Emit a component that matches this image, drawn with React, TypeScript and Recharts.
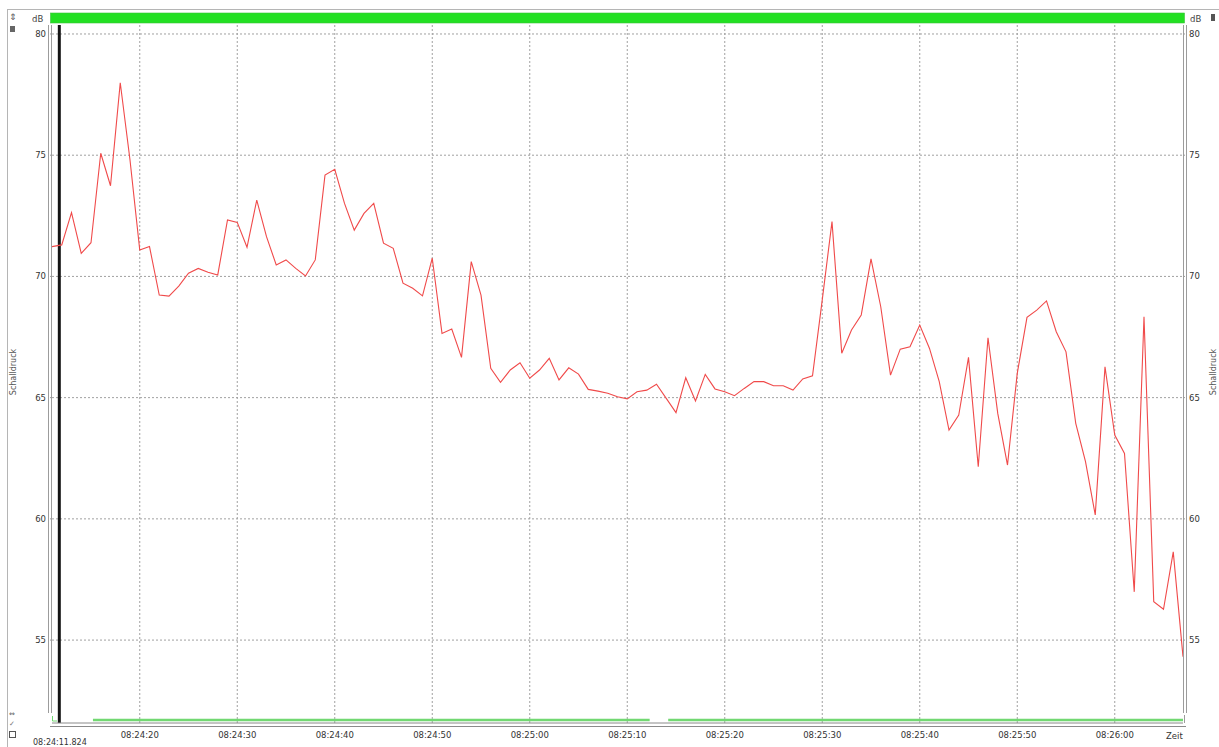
import { LineChart, Line, XAxis, YAxis, CartesianGrid, ReferenceLine } from 'recharts';

// seconds after 08:24:00 of the first sample, one sample per second
const START_SEC = 11;

// Schalldruck in dB
const soundLevel = [
  71.23, 71.3, 72.63, 70.95, 71.39, 75.08, 73.74, 77.99, 74.8, 71.09,
  71.23, 69.23, 69.19, 69.6, 70.13, 70.33, 70.17, 70.06, 72.33, 72.23,
  71.2, 73.15, 71.64, 70.47, 70.68, 70.33, 70.02, 70.68, 74.18, 74.42,
  73.01, 71.91, 72.6, 73.01, 71.37, 71.16, 69.72, 69.51, 69.2, 70.75,
  67.65, 67.83, 66.66, 70.61, 69.23, 66.21, 65.63, 66.14, 66.44, 65.8,
  66.14, 66.62, 65.73, 66.23, 65.97, 65.34, 65.27, 65.18, 65.04, 64.95,
  65.24, 65.31, 65.55, 64.97, 64.38, 65.82, 64.86, 65.96, 65.36, 65.24,
  65.08, 65.38, 65.66, 65.66, 65.49, 65.49, 65.31, 65.77, 65.9, 69.03,
  72.26, 66.83, 67.79, 68.41, 70.72, 68.75, 65.93, 67.0, 67.1, 67.99,
  67.03, 65.66, 63.66, 64.28, 66.66, 62.15, 67.47, 64.35, 62.22, 66.0,
  68.31, 68.61, 68.99, 67.72, 66.89, 63.94, 62.36, 60.16, 66.27, 63.46,
  62.7, 56.99, 68.34, 56.58, 56.27, 58.64, 54.31,
];

const timeTicks = [20, 30, 40, 50, 60, 70, 80, 90, 100, 110, 120];
const levelTicks = [55, 60, 65, 70, 75, 80];
const cursorSec = 11.75;
// green status strip under the plot (start, end in seconds)
const statusRanges = [
  [15.2, 72.3],
  [74.2, 127],
];

const X_DOMAIN = [11, 127];
const Y_DOMAIN = [51.58, 80.37];
const STRIP_LEVEL = 51.7;

const data = soundLevel.map((db, i) => ({ t: START_SEC + i, db }));

const pad = (n: number) => String(n).padStart(2, '0');
const fmtTime = (sec: number) => {
  const m = 24 + Math.floor(sec / 60);
  const s = Math.round(sec % 60);
  return `08:${pad(m)}:${pad(s)}`;
};

const FONT = '"DejaVu Sans", Tahoma, sans-serif';
const tickStyle = { fontSize: 8.5, fill: '#333', fontFamily: FONT };
const frame = '#9c9c9c';

export default function App() {
  return (
    <div
      style={{
        position: 'absolute',
        left: 0,
        top: 0,
        width: 1219,
        height: 747,
        background: '#fff',
        overflow: 'hidden',
      }}
    >
      <LineChart
        width={1219}
        height={747}
        data={data}
        margin={{ top: 25, right: 0, bottom: 0, left: 0 }}
      >
        <CartesianGrid
          yAxisId="l"
          stroke="#a0a0a0"
          strokeDasharray="2 2"
          horizontalValues={levelTicks}
          verticalValues={timeTicks}
        />
        <XAxis
          dataKey="t"
          type="number"
          domain={X_DOMAIN}
          allowDataOverflow
          ticks={timeTicks}
          tickFormatter={fmtTime}
          height={24}
          axisLine={{ stroke: '#8a8a8a' }}
          tickLine={false}
          tickSize={4}
          tickMargin={5}
          tick={tickStyle}
        />
        <YAxis
          yAxisId="l"
          width={52}
          domain={Y_DOMAIN}
          allowDataOverflow
          ticks={levelTicks}
          axisLine={false}
          tickLine={{ stroke: '#999', strokeDasharray: '1 1' }}
          tickSize={4}
          tickMargin={2}
          tick={tickStyle}
        />
        <YAxis
          yAxisId="r"
          orientation="right"
          width={36}
          domain={Y_DOMAIN}
          allowDataOverflow
          ticks={levelTicks}
          axisLine={false}
          tickLine={{ stroke: '#999', strokeDasharray: '1 1' }}
          tickSize={4}
          tickMargin={2}
          tick={tickStyle}
        />
        {statusRanges.map(([a, b]) => (
          <ReferenceLine
            key={a}
            yAxisId="l"
            segment={[
              { x: a, y: STRIP_LEVEL },
              { x: b, y: STRIP_LEVEL },
            ]}
            stroke="#72d872"
            strokeWidth={2.5}
          />
        ))}
        <ReferenceLine yAxisId="l" x={cursorSec} stroke="#151515" strokeWidth={3} />
        <Line
          yAxisId="l"
          type="linear"
          dataKey="db"
          stroke="#f04a4a"
          strokeWidth={1.1}
          dot={false}
          isAnimationActive={false}
        />
      </LineChart>

      <svg
        width={1219}
        height={747}
        style={{ position: 'absolute', left: 0, top: 0, pointerEvents: 'none' }}
        fontFamily={FONT}
      >
        {/* outer frame */}
        <line x1={7.5} y1={10} x2={7.5} y2={747} stroke="#b5b5b5" />
        <line x1={7} y1={9.5} x2={1219} y2={9.5} stroke="#b5b5b5" />
        {/* top status bar */}
        <rect x={50.5} y={13} width={1134} height={10} fill="#22e022" stroke="#3cc23c" strokeWidth={0.6} />
        <text x={32} y={22} fontSize={8.5} fill="#444">dB</text>
        <text x={1190} y={22} fontSize={8.5} fill="#444">dB</text>
        {/* double borders of the plot */}
        <line x1={48.5} y1={25} x2={48.5} y2={713} stroke={frame} />
        <line x1={51.5} y1={25} x2={51.5} y2={713} stroke={frame} />
        <line x1={1183.5} y1={25} x2={1183.5} y2={713} stroke={frame} />
        <line x1={1186.5} y1={25} x2={1186.5} y2={713} stroke={frame} />
        <line x1={50} y1={726.5} x2={1186} y2={726.5} stroke="#8a8a8a" />
        <line x1={1184.5} y1={715} x2={1184.5} y2={723} stroke={frame} />
        <path d="M52.5 716 V721 H57" stroke="#72d872" fill="none" />
        {/* axis titles */}
        <text
          transform="translate(16 372) rotate(-90)"
          textAnchor="middle"
          fontSize={8}
          fill="#555"
        >
          Schalldruck
        </text>
        <text
          transform="translate(1216 372) rotate(-90)"
          textAnchor="middle"
          fontSize={8}
          fill="#555"
        >
          Schalldruck
        </text>
        <text x={1166} y={739} fontSize={8.5} fill="#333">Zeit</text>
        <text x={33} y={745} fontSize={8} fill="#333">08:24:11.824</text>
        {/* small tool icons */}
        <text x={9} y={20} fontSize={9} fill="#555">⇕</text>
        <rect x={10} y={26} width={5} height={6} fill="#666" />
        <text x={9} y={716} fontSize={7} fill="#555">⇔</text>
        <text x={9} y={726} fontSize={7} fill="#777">✓</text>
        <rect x={9.5} y={731.5} width={6} height={6} fill="none" stroke="#555" />
        <rect x={1211} y={14} width={4} height={7} fill="#555" />
      </svg>
    </div>
  );
}
